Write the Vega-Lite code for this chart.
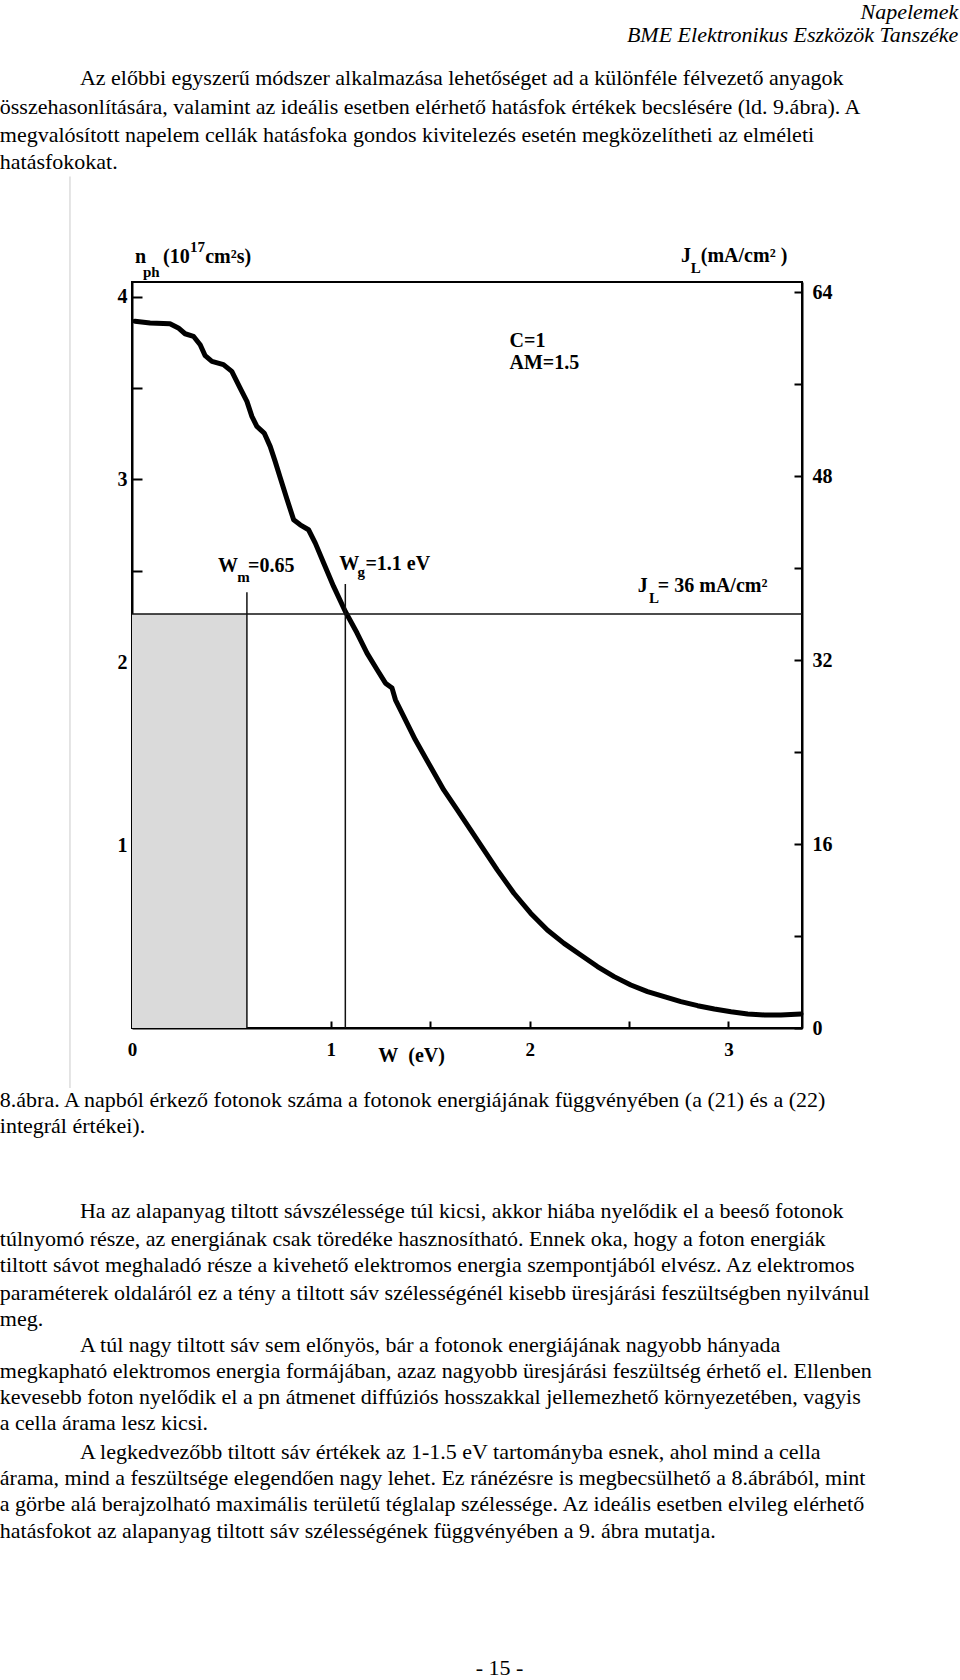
{
  "$schema": "https://vega.github.io/schema/vega-lite/v6.json",
  "width": 670,
  "height": 746,
  "autosize": {"type": "none"},
  "padding": {"left": 132, "top": 282, "right": 158, "bottom": 652},
  "background": "white",
  "config": {
    "view": {"stroke": "#000", "strokeWidth": 2},
    "font": "Liberation Serif",
    "axis": {
      "grid": false,
      "domainColor": "#000",
      "domainWidth": 2,
      "tickColor": "#000",
      "tickWidth": 2,
      "labelFont": "Liberation Serif",
      "labelFontWeight": "bold",
      "labelFontSize": 19,
      "labelColor": "#000",
      "labelFlush": false,
      "labelOverlap": false,
      "zindex": 1
    }
  },
  "encoding": {
    "x": {
      "field": "W",
      "type": "quantitative",
      "title": null,
      "scale": {"domain": [0, 3.37], "nice": false, "zero": false},
      "axis": {
        "values": [0, 0.5, 1, 1.5, 2, 2.5, 3],
        "labelExpr": "datum.value % 1 === 0 ? format(datum.value, 'd') : ''",
        "tickSize": -7,
        "labelPadding": 19,
        "title": null
      }
    }
  },
  "layer": [
    {
      "encoding": {
        "y": {
          "field": "n",
          "type": "quantitative",
          "title": null,
          "scale": {"domain": [0, 4.08], "nice": false, "zero": false},
          "axis": {
            "orient": "left",
            "values": [0.5, 1, 1.5, 2, 2.5, 3, 3.5, 4],
            "labelExpr": "datum.value % 1 === 0 ? format(datum.value, 'd') : ''",
            "tickSize": -10,
            "labelPadding": 15,
            "labelFontSize": 20,
            "title": null
          }
        }
      },
      "layer": [
        {
          "data": {"values": [
            {"W": 0.015, "n": 3.865}, {"W": 0.091, "n": 3.856}, {"W": 0.191, "n": 3.852},
            {"W": 0.233, "n": 3.829}, {"W": 0.267, "n": 3.797}, {"W": 0.309, "n": 3.783},
            {"W": 0.343, "n": 3.737}, {"W": 0.368, "n": 3.677}, {"W": 0.402, "n": 3.646},
            {"W": 0.460, "n": 3.628}, {"W": 0.502, "n": 3.591}, {"W": 0.544, "n": 3.500},
            {"W": 0.578, "n": 3.427}, {"W": 0.603, "n": 3.345}, {"W": 0.628, "n": 3.290},
            {"W": 0.665, "n": 3.254}, {"W": 0.695, "n": 3.181}, {"W": 0.720, "n": 3.099},
            {"W": 0.746, "n": 3.008}, {"W": 0.780, "n": 2.890}, {"W": 0.813, "n": 2.780},
            {"W": 0.846, "n": 2.752}, {"W": 0.888, "n": 2.725}, {"W": 0.922, "n": 2.652},
            {"W": 0.964, "n": 2.543}, {"W": 1.014, "n": 2.415}, {"W": 1.073, "n": 2.278},
            {"W": 1.132, "n": 2.160}, {"W": 1.182, "n": 2.050}, {"W": 1.233, "n": 1.959},
            {"W": 1.275, "n": 1.886}, {"W": 1.308, "n": 1.859}, {"W": 1.325, "n": 1.795},
            {"W": 1.367, "n": 1.703}, {"W": 1.425, "n": 1.576}, {"W": 1.501, "n": 1.430},
            {"W": 1.568, "n": 1.302}, {"W": 1.636, "n": 1.193}, {"W": 1.703, "n": 1.083},
            {"W": 1.770, "n": 0.974}, {"W": 1.837, "n": 0.865}, {"W": 1.921, "n": 0.737},
            {"W": 2.005, "n": 0.628}, {"W": 2.089, "n": 0.536}, {"W": 2.173, "n": 0.463},
            {"W": 2.257, "n": 0.399}, {"W": 2.341, "n": 0.336}, {"W": 2.425, "n": 0.281},
            {"W": 2.509, "n": 0.235}, {"W": 2.593, "n": 0.199}, {"W": 2.677, "n": 0.171},
            {"W": 2.761, "n": 0.144}, {"W": 2.845, "n": 0.122}, {"W": 2.929, "n": 0.104},
            {"W": 3.013, "n": 0.089}, {"W": 3.097, "n": 0.077}, {"W": 3.181, "n": 0.071},
            {"W": 3.264, "n": 0.071}, {"W": 3.365, "n": 0.077}
          ]},
          "mark": {"type": "line", "color": "#000", "strokeWidth": 5, "strokeJoin": "round", "strokeCap": "round"}
        },
        {
          "data": {"values": [{"W": -0.312, "n": 4.657, "n2": -0.328}]},
          "mark": {"type": "rule", "color": "#dcdcdc", "strokeWidth": 1.5},
          "encoding": {"y2": {"field": "n2"}}
        },
        {
          "data": {"values": [
            {"W": 0.015, "n": 4.186, "text": "n"},
            {"W": 0.156, "n": 4.186, "text": "(10"},
            {"W": 0.368, "n": 4.186, "text": "cm²s)"},
            {"W": 2.761, "n": 4.192, "text": "J"},
            {"W": 2.861, "n": 4.192, "text": "(mA/cm² )"},
            {"W": 1.899, "n": 3.726, "text": "C=1"},
            {"W": 1.899, "n": 3.606, "text": "AM=1.5"},
            {"W": 0.433, "n": 2.495, "text": "W"},
            {"W": 0.584, "n": 2.495, "text": "=0.65"},
            {"W": 1.043, "n": 2.506, "text": "W"},
            {"W": 1.174, "n": 2.506, "text": "=1.1 eV"},
            {"W": 2.544, "n": 2.386, "text": "J"},
            {"W": 2.645, "n": 2.386, "text": "= 36 mA/cm²"},
            {"W": 0.166, "n": 1.724, "text": "P"},
            {"W": 1.239, "n": -0.186, "text": "W\u00a0 (eV)"}
          ]},
          "mark": {"type": "text", "font": "Liberation Serif", "fontWeight": "bold", "fontSize": 20, "align": "left", "baseline": "alphabetic", "color": "#000"},
          "encoding": {"text": {"field": "text"}}
        },
        {
          "data": {"values": [
            {"W": 0.055, "n": 4.109, "text": "ph"},
            {"W": 0.292, "n": 4.246, "text": "17"},
            {"W": 2.811, "n": 4.131, "text": "L"},
            {"W": 0.529, "n": 2.440, "text": "m"},
            {"W": 1.134, "n": 2.468, "text": "g"},
            {"W": 2.600, "n": 2.326, "text": "L"},
            {"W": 0.227, "n": 1.658, "text": "m"}
          ]},
          "mark": {"type": "text", "font": "Liberation Serif", "fontWeight": "bold", "fontSize": 15, "align": "left", "baseline": "alphabetic", "color": "#000"},
          "encoding": {"text": {"field": "text"}}
        },
        {
          "data": {"values": [
            {"W": 4.156, "n": 5.516, "text": "Napelemek"},
            {"W": 4.156, "n": 5.390, "text": "BME Elektronikus Eszközök Tanszéke"}
          ]},
          "mark": {"type": "text", "font": "Liberation Serif", "fontStyle": "italic", "fontSize": 22, "align": "right", "baseline": "alphabetic", "color": "#000"},
          "encoding": {"text": {"field": "text"}}
        },
        {
          "data": {"values": [
            {"W": -0.262, "n": 5.155, "text": "Az előbbi egyszerű módszer alkalmazása lehetőséget ad a különféle félvezető anyagok"},
            {"W": -0.665, "n": 5.001, "text": "összehasonlítására, valamint az ideális esetben elérhető hatásfok értékek becslésére (ld. 9.ábra). A"},
            {"W": -0.665, "n": 4.848, "text": "megvalósított napelem cellák hatásfoka gondos kivitelezés esetén megközelítheti az elméleti"},
            {"W": -0.665, "n": 4.700, "text": "hatásfokokat."},
            {"W": -0.665, "n": -0.432, "text": "8.ábra. A napból érkező fotonok száma a fotonok energiájának függvényében (a (21) és a (22)"},
            {"W": -0.665, "n": -0.574, "text": "integrál értékei)."},
            {"W": -0.262, "n": -1.040, "text": "Ha az alapanyag tiltott sávszélessége túl kicsi, akkor hiába nyelődik el a beeső fotonok"},
            {"W": -0.665, "n": -1.193, "text": "túlnyomó része, az energiának csak töredéke hasznosítható. Ennek oka, hogy a foton energiák"},
            {"W": -0.665, "n": -1.335, "text": "tiltott sávot meghaladó része a kivehető elektromos energia szempontjából elvész. Az elektromos"},
            {"W": -0.665, "n": -1.488, "text": "paraméterek oldaláról ez a tény a tiltott sáv szélességénél kisebb üresjárási feszültségben nyilvánul"},
            {"W": -0.665, "n": -1.631, "text": "meg."},
            {"W": -0.262, "n": -1.773, "text": "A túl nagy tiltott sáv sem előnyös, bár a fotonok energiájának nagyobb hányada"},
            {"W": -0.665, "n": -1.915, "text": "megkapható elektromos energia formájában, azaz nagyobb üresjárási feszültség érhető el. Ellenben"},
            {"W": -0.665, "n": -2.057, "text": "kevesebb foton nyelődik el a pn átmenet diffúziós hosszakkal jellemezhető környezetében, vagyis"},
            {"W": -0.665, "n": -2.200, "text": "a cella árama lesz kicsi."},
            {"W": -0.262, "n": -2.358, "text": "A legkedvezőbb tiltott sáv értékek az 1-1.5 eV tartományba esnek, ahol mind a cella"},
            {"W": -0.665, "n": -2.501, "text": "árama, mind a feszültsége elegendően nagy lehet. Ez ránézésre is megbecsülhető a 8.ábrából, mint"},
            {"W": -0.665, "n": -2.643, "text": "a görbe alá berajzolható maximális területű téglalap szélessége. Az ideális esetben elvileg elérhető"},
            {"W": -0.665, "n": -2.791, "text": "hatásfokot az alapanyag tiltott sáv szélességének függvényében a 9. ábra mutatja."}
          ]},
          "mark": {"type": "text", "font": "Liberation Serif", "fontSize": 22, "align": "left", "baseline": "alphabetic", "color": "#000"},
          "encoding": {"text": {"field": "text"}}
        },
        {
          "data": {"values": [{"W": 1.849, "n": -3.540, "text": "- 15 -"}]},
          "mark": {"type": "text", "font": "Liberation Serif", "fontSize": 22, "align": "center", "baseline": "alphabetic", "color": "#000"},
          "encoding": {"text": {"field": "text"}}
        }
      ]
    },
    {
      "encoding": {
        "y": {
          "field": "JL",
          "type": "quantitative",
          "title": null,
          "scale": {"domain": [0, 64.87], "nice": false, "zero": false},
          "axis": {
            "orient": "right",
            "values": [0, 8, 16, 24, 32, 40, 48, 56, 64],
            "labelExpr": "datum.value % 16 === 0 ? format(datum.value, 'd') : ''",
            "tickSize": -8,
            "labelPadding": 18,
            "labelFontSize": 20,
            "title": null
          }
        }
      },
      "layer": [
        {
          "data": {"values": [{"W": 0, "W2": 0.578, "JL": 0, "JL2": 36}]},
          "mark": {"type": "rect", "fill": "#dadada"},
          "encoding": {"x2": {"field": "W2"}, "y2": {"field": "JL2"}}
        },
        {
          "data": {"values": [{"W": 0, "W2": 3.37, "JL": 36}]},
          "mark": {"type": "rule", "color": "#111", "strokeWidth": 1.5},
          "encoding": {"x2": {"field": "W2"}}
        },
        {
          "data": {"values": [
            {"W": 0.578, "JL": 0, "JL2": 37.9},
            {"W": 1.073, "JL": 0, "JL2": 38.6}
          ]},
          "mark": {"type": "rule", "color": "#111", "strokeWidth": 1.5},
          "encoding": {"y2": {"field": "JL2"}}
        }
      ]
    }
  ],
  "resolve": {"scale": {"y": "independent"}, "axis": {"y": "independent"}}
}
